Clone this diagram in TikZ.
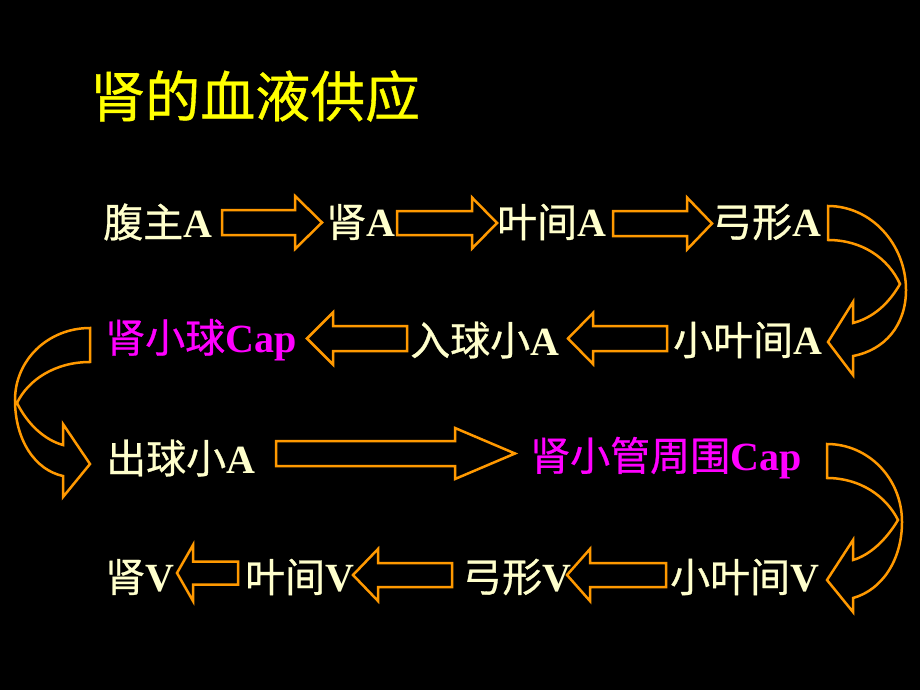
\documentclass[tikz,border=0pt]{standalone}
\usepackage{fontspec}
\setmainfont{Liberation Serif}
\newfontfamily\cjk{Noto Sans CJK SC}[UprightFeatures={FakeBold=0.7}]
\definecolor{cream}{HTML}{FFFFCC}
\definecolor{org}{HTML}{FF9900}
\definecolor{mag}{HTML}{FF00FF}
\definecolor{ttl}{HTML}{FFFF00}
\newcommand\zh[1]{{\cjk\mdseries #1}}
% right block arrow: x-start, x-tip, y-centre, shaft half, head half, head length
\newcommand\rarr[6]{\draw[blk] (#1,#3-#4) -- (#2-#6,#3-#4) -- (#2-#6,#3-#5) -- (#2,#3) -- (#2-#6,#3+#5) -- (#2-#6,#3+#4) -- (#1,#3+#4) -- cycle;}
% left block arrow: x-tip, x-end, y-centre, shaft half, head half, head length
\newcommand\larr[6]{\draw[blk] (#2,#3-#4) -- (#1+#6,#3-#4) -- (#1+#6,#3-#5) -- (#1,#3) -- (#1+#6,#3+#5) -- (#1+#6,#3+#4) -- (#2,#3+#4) -- cycle;}
\tikzset{
  blk/.style={draw=org, line width=2.5pt, fill=black, line join=miter},
  txt/.style={anchor=west, inner sep=0pt, text=cream, font=\fontsize{40}{48}\selectfont\bfseries},
  hot/.style={txt, text=mag},
  ttlstyle/.style={anchor=west, inner sep=0pt, text=ttl, font=\fontsize{55}{60}\selectfont}
}
\begin{document}
\begin{tikzpicture}[x=1pt,y=-1pt]
\fill[black] (0,0) rectangle (920,690);
% title
\node[ttlstyle] (title) at (90,96) {\zh{肾的血液供应}};
% row 1
\node[txt] (r1a) at (103,222) {\zh{腹主}A};
\node[txt] (r1b) at (326,222) {\zh{肾}A};
\node[txt] (r1c) at (497,222) {\zh{叶间}A};
\node[txt] (r1d) at (712,222) {\zh{弓形}A};
% row 2
\node[hot] (r2a) at (105,340) {\zh{肾小球}Cap};
\node[txt] (r2b) at (410,340) {\zh{入球小}A};
\node[txt] (r2c) at (673,340) {\zh{小叶间}A};
% row 3
\node[txt] (r3a) at (106,458) {\zh{出球小}A};
\node[hot] (r3b) at (530,458) {\zh{肾小管周围}Cap};
% row 4
\node[txt] (r4a) at (105,577) {\zh{肾}V};
\node[txt] (r4b) at (245,577) {\zh{叶间}V};
\node[txt] (r4c) at (462,577) {\zh{弓形}V};
\node[txt] (r4d) at (670,577) {\zh{小叶间}V};
% straight block arrows
\rarr{222}{322}{222.5}{12.5}{26.5}{27}
\rarr{397}{497}{223}{12}{25.5}{25}
\rarr{613}{712}{223.5}{12.5}{26}{25}
\larr{307}{407}{338.5}{12.5}{26}{26}
\larr{568}{667}{338.5}{12.5}{25.5}{25}
\rarr{276}{515}{453.5}{12.5}{25.5}{60}
\larr{177}{238}{573}{11.5}{28}{16}
\larr{353}{452}{575}{12}{26}{25}
\larr{567}{666}{575}{12}{26}{23}
% curved arrow right, row 1 -> row 2
\draw[blk] (828,206) .. controls (871,206) and (906,244) .. (906,290)
  .. controls (906,325) and (885,350) .. (853,356)
  -- (853,375) -- (828,342) -- (853,302) -- (853,323)
  .. controls (872,318) and (888,305) .. (900,284)
  .. controls (888,258) and (862,240) .. (828,240) -- cycle;
% curved arrow left, row 2 -> row 3
\draw[blk] (90,328) .. controls (48,328) and (15,360) .. (15,400)
  .. controls (15,440) and (35,470) .. (63,476)
  -- (63,497) -- (90,464) -- (63,424) -- (63,445)
  .. controls (45,440) and (28,425) .. (17,403)
  .. controls (28,380) and (55,362) .. (90,362) -- cycle;
% curved arrow right, row 3 -> row 4
\draw[blk] (827,444) .. controls (868,444) and (902,478) .. (902,522)
  .. controls (902,560) and (882,590) .. (853,598)
  -- (853,612) -- (827,580) -- (853,540) -- (853,560)
  .. controls (870,555) and (886,540) .. (898,520)
  .. controls (886,496) and (860,478) .. (827,478) -- cycle;
\end{tikzpicture}
\end{document}
